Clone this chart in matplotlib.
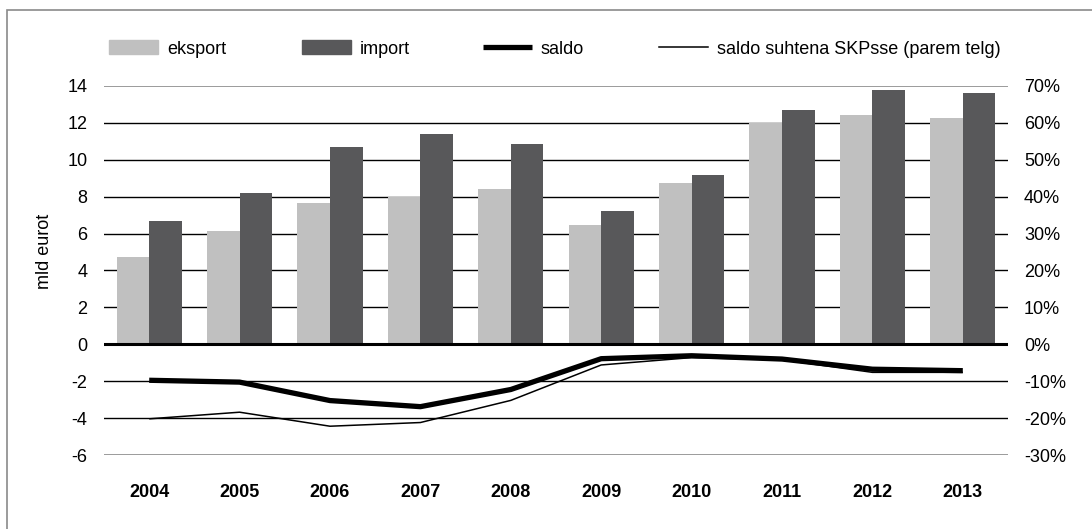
import matplotlib.pyplot as plt
from matplotlib.patches import Patch, Rectangle
from matplotlib.lines import Line2D
import numpy as np

plt.rcParams['font.family'] = ['Liberation Sans', 'DejaVu Sans']

years = ['2004', '2005', '2006', '2007', '2008', '2009', '2010', '2011', '2012', '2013']
eksport = [4.75, 6.15, 7.65, 8.0, 8.4, 6.45, 8.75, 12.0, 12.45, 12.25]
import_ = [6.7, 8.2, 10.7, 11.4, 10.85, 7.2, 9.2, 12.7, 13.8, 13.6]
saldo = [-1.95, -2.05, -3.05, -3.38, -2.45, -0.78, -0.62, -0.8, -1.35, -1.43]
saldo_skp = [-20.2, -18.4, -22.2, -21.2, -15.2, -5.6, -3.6, -4.2, -7.6, -7.6]

left_ticks = [14, 12, 10, 8, 6, 4, 2, 0, -2, -4, -6]
right_ticks = [70, 60, 50, 40, 30, 20, 10, 0, -10, -20, -30]

light = '#c0c0c0'
dark = '#58585a'
fs = 13

fig = plt.figure(figsize=(10.92, 5.29), dpi=100)
ax = fig.add_axes([104 / 1092, 74 / 529, 904 / 1092, 369 / 529])
ax2 = ax.twinx()

# frame around the chart (only top and left edges show)
fig.patches.append(Rectangle((7 / 1092, -0.1), 1.2, 1 - 10 / 529 + 0.1, transform=fig.transFigure,
                             fill=False, edgecolor='#8a8a8a', linewidth=1.2))

x = np.arange(len(years))
w = 0.36
ax.bar(x - w / 2, eksport, w, color=light, zorder=3)
ax.bar(x + w / 2, import_, w, color=dark, zorder=3)

for t in left_ticks:
    if t == 0:
        ax.axhline(t, color='black', linewidth=2.2, zorder=4)
    elif t in (14, -6):
        ax.axhline(t, color='#8a8a8a', linewidth=1.2, zorder=1)
    else:
        ax.axhline(t, color='black', linewidth=1.0, zorder=1)

ax.set_xlim(-0.5, len(years) - 0.5)
ax.set_ylim(-6, 14)
ax.set_yticks(left_ticks)
ax.set_yticklabels([str(t) for t in left_ticks], fontsize=fs)
ax.set_xticks(x)
ax.set_xticklabels(years, fontsize=fs, fontweight='bold')
ax.tick_params(axis='x', length=0, pad=21)
ax.tick_params(axis='y', length=0, pad=12)
ax.set_ylabel('mld eurot', fontsize=fs)
ax.yaxis.set_label_coords(-0.056, 0.553)

ax2.plot(x, [s * 5 for s in saldo], color='black', linewidth=3.8, zorder=5,
         solid_capstyle='butt', solid_joinstyle='round')
ax2.plot(x, saldo_skp, color='black', linewidth=1.1, zorder=5, solid_capstyle='butt')
ax2.set_ylim(-30, 70)
ax2.set_yticks(right_ticks)
ax2.set_yticklabels([f'{t}%' for t in right_ticks], fontsize=fs)
ax2.tick_params(axis='y', length=0, pad=11.5)

for a in (ax, ax2):
    for s in a.spines.values():
        s.set_visible(False)

handles = [Patch(color=light), Patch(color=dark),
           Line2D([], [], color='black', linewidth=3.8, solid_capstyle='butt'),
           Line2D([], [], color='black', linewidth=1.1)]
labels = ['eksport', 'import', 'saldo', 'saldo suhtena SKPsse (parem telg)']
starts = [109, 302, 483, 659]
for h, lab, sx in zip(handles, labels, starts):
    fig.legend([h], [lab], loc='center left', bbox_to_anchor=(sx / 1092, 1 - 49 / 529),
               frameon=False, fontsize=fs, handlelength=2.7, handleheight=0.78,
               handletextpad=0.5, borderpad=0, borderaxespad=0)

fig.savefig('out.png', dpi=100)
